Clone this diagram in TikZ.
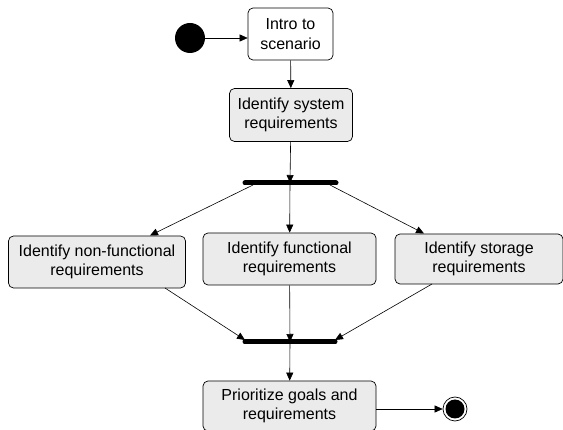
\documentclass[tikz,border=0pt]{standalone}
\usepackage{fontspec}
\setmainfont{Liberation Sans}
\usetikzlibrary{arrows.meta}
\definecolor{boxgray}{HTML}{EBEBEB}
\begin{document}
\begin{tikzpicture}[x=1pt,y=-1pt,
  act/.style={draw=black, rounded corners=5pt, fill=boxgray, align=center, inner sep=0pt,
    font=\fontsize{16}{19.5}\selectfont, line width=0.7pt},
  bar/.style={draw=black, line width=5pt, line cap=round},
  arr/.style={-{Triangle[length=8pt,width=7pt]}, line width=0.6pt}]
\useasboundingbox (0,0) rectangle (563,430);
% start
\node[circle, fill=black, minimum size=30pt, inner sep=0pt] (start) at (190,38) {};
\node[act, fill=white, minimum width=85pt, minimum height=52pt] (intro) at (290.5,34) {Intro to\\scenario};
\node[act, minimum width=123pt, minimum height=53pt] (sys) at (291,115) {Identify system\\requirements};
\coordinate (f1l) at (245,183); \coordinate (f1r) at (336,183);
\draw[bar] (f1l) -- (f1r);
\coordinate (f1) at (290,183);
\node[act, minimum width=177pt, minimum height=52pt] (nf) at (97,262) {Identify non-functional\\requirements};
\node[act, minimum width=173pt, minimum height=52pt] (fn) at (289.5,259) {Identify functional\\requirements};
\node[act, minimum width=168pt, minimum height=50pt] (st) at (479,259) {Identify storage\\requirements};
\coordinate (j1l) at (245,342); \coordinate (j1r) at (335,342);
\draw[bar] (j1l) -- (j1r);
\coordinate (j1) at (290,342);
\node[act, minimum width=173pt, minimum height=50pt] (pr) at (289.5,406) {Prioritize goals and\\requirements};
\node[circle, draw=black, line width=0.7pt, minimum size=24pt, inner sep=0pt] (endo) at (455,409) {};
\node[circle, fill=black, minimum size=19pt, inner sep=0pt] at (endo) {};
% connectors
\draw[arr] (start) -- (intro.west |- start);
\draw[arr] (intro) -- (sys);
\draw[arr] (sys) -- (f1);
\draw[arr] (253,185) -- (150,235.5);
\draw[arr] (f1) -- (fn);
\draw[arr] (330,185) -- (424,233.5);
\draw[arr] (165,288) -- (245,340);
\draw[arr] (fn) -- (j1);
\draw[arr] (432,284) -- (335,340);
\draw[arr] (j1) -- (pr);
\draw[arr] (pr.east |- endo) -- (endo);
\end{tikzpicture}
\end{document}
